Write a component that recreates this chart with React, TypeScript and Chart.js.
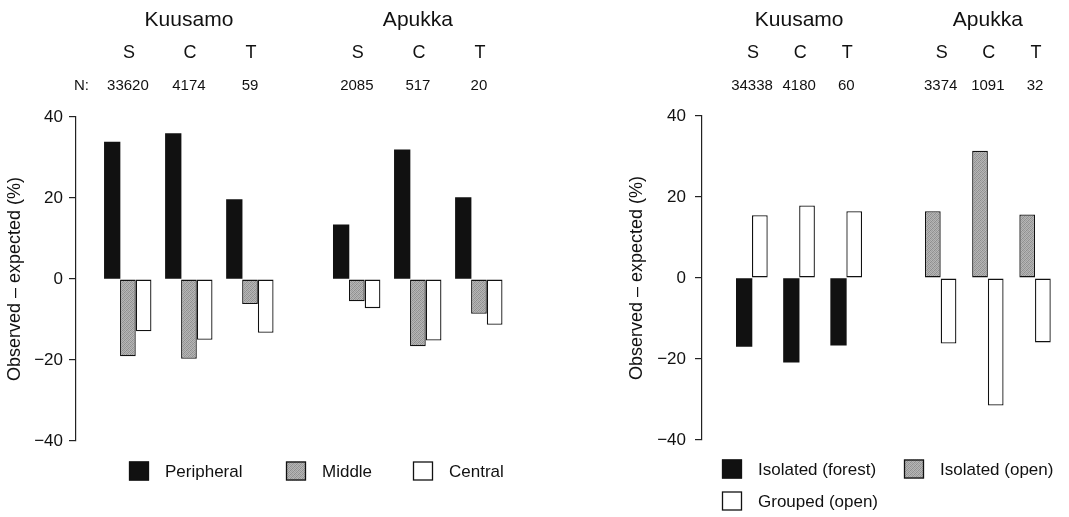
import React, { useEffect, useRef } from 'react';
import { Chart, registerables } from 'chart.js';

Chart.register(...registerables);

// ---------- data ----------
const SITES = ['Kuusamo', 'Apukka'];
const TYPES = ['S', 'C', 'T'];

const LEFT_N = ['33620', '4174', '59', '2085', '517', '20'];
const PERIPHERAL = [33.8, 35.9, 19.6, 13.4, 31.9, 20.1];
const MIDDLE = [-19.1, -19.7, -6.2, -5.5, -16.6, -8.6];
const CENTRAL = [-12.9, -15.0, -13.3, -7.2, -15.2, -11.3];

const RIGHT_N = ['34338', '4180', '60', '3374', '1091', '32'];
const ISOLATED_FOREST = [-16.9, -20.8, -16.6, null, null, null];
const ISOLATED_OPEN = [null, null, null, 16.5, 31.4, 15.7];
const GROUPED_OPEN = [15.5, 17.9, 16.5, -16.2, -31.5, -15.9];

const Y_MIN = -40;
const Y_MAX = 40;
const Y_STEP = 20;
const Y_TITLE = 'Observed \u2013 expected (%)';

const LEFT_LEGEND = ['Peripheral', 'Middle', 'Central'];
const RIGHT_LEGEND = ['Isolated (forest)', 'Isolated (open)', 'Grouped (open)'];

// ---------- styling ----------
const FONT = '"Liberation Sans", Arial, Helvetica, sans-serif';
const INK = '#111111';
const BLACK_FILL = '#111111';
const WHITE_FILL = '#ffffff';

function greyPattern(): CanvasPattern | string {
  const c = document.createElement('canvas');
  c.width = 4;
  c.height = 4;
  const g = c.getContext('2d');
  if (!g) return '#a0a0a0';
  const shades = [
    ['#8e8e8e', '#b2b2b2', '#9c9c9c', '#b8b8b8'],
    ['#b6b6b6', '#a0a0a0', '#b4b4b4', '#909090'],
    ['#9a9a9a', '#bababa', '#8c8c8c', '#b0b0b0'],
    ['#b3b3b3', '#929292', '#b7b7b7', '#9e9e9e'],
  ];
  shades.forEach((row, y) =>
    row.forEach((col, x) => {
      g.fillStyle = col;
      g.fillRect(x, y, 1, 1);
    })
  );
  const p = g.createPattern(c, 'repeat');
  return p || '#a0a0a0';
}

const posOf = (i: number, gap: number) => Math.floor(i / 3) * gap + (i % 3);

function headerPlugin(nLabels: string[], gap: number, showN: boolean) {
  return {
    id: 'headerText',
    afterDraw(chart: any) {
      const ctx = chart.ctx;
      const xs = chart.scales.x;
      ctx.save();
      ctx.fillStyle = INK;
      ctx.textAlign = 'center';
      ctx.textBaseline = 'middle';
      SITES.forEach((site, s) => {
        ctx.font = `21px ${FONT}`;
        ctx.fillText(site, xs.getPixelForValue(s * gap + 1), 20);
        TYPES.forEach((t, k) => {
          const x = xs.getPixelForValue(s * gap + k);
          ctx.font = `18px ${FONT}`;
          ctx.fillText(t, x + 1, 53);
          ctx.font = `15px ${FONT}`;
          ctx.fillText(nLabels[s * 3 + k], x, 86);
        });
      });
      if (showN) {
        ctx.font = `15px ${FONT}`;
        ctx.textAlign = 'left';
        ctx.fillText('N:', 74, 86);
      }
      ctx.restore();
    },
  };
}

function legendPlugin(items: { label: string; fill: any; x: number; y: number }[]) {
  return {
    id: 'customLegend',
    afterDraw(chart: any) {
      const ctx = chart.ctx;
      ctx.save();
      items.forEach((it) => {
        ctx.fillStyle = it.fill;
        ctx.fillRect(it.x, it.y - 9.5, 20, 19);
        ctx.strokeStyle = INK;
        ctx.lineWidth = 1.3;
        ctx.strokeRect(it.x + 0.5, it.y - 9, 19, 18);
        ctx.fillStyle = INK;
        ctx.font = `17px ${FONT}`;
        ctx.textAlign = 'left';
        ctx.textBaseline = 'middle';
        ctx.fillText(it.label, it.x + 36, it.y + 1);
      });
      ctx.restore();
    },
  };
}

function yAxis(width: number, labelPad: number, titlePad: number, stacked: boolean) {
  return {
    type: 'linear',
    position: 'left',
    min: Y_MIN,
    max: Y_MAX,
    stacked,
    afterFit: (scale: any) => {
      scale.width = width;
    },
    ticks: {
      stepSize: Y_STEP,
      color: INK,
      padding: labelPad,
      font: { family: FONT, size: 17 },
      callback: (v: any) => (Number(v) < 0 ? '\u2212' + Math.abs(Number(v)) : String(v)),
    },
    grid: {
      drawOnChartArea: false,
      drawTicks: true,
      tickLength: 7,
      color: '#222222',
      lineWidth: 1.2,
    },
    border: { display: true, color: '#222222', width: 1.2 },
    title: {
      display: true,
      text: Y_TITLE,
      color: INK,
      font: { family: FONT, size: 18 },
      padding: { top: titlePad, bottom: 0 },
    },
  };
}

function xAxis(min: number, max: number) {
  return {
    type: 'linear',
    display: false,
    min,
    max,
    offset: false,
    grid: { display: false },
  };
}

const barCommon = {
  barThickness: 15.7,
  borderColor: INK,
  borderWidth: 1.3,
  borderSkipped: false,
  inflateAmount: 0,
};
const solidBar = { ...barCommon, borderWidth: 0, inflateAmount: 0.3 };

export default function App() {
  const leftRef = useRef<HTMLCanvasElement | null>(null);
  const rightRef = useRef<HTMLCanvasElement | null>(null);

  useEffect(() => {
    const grey = greyPattern();
    const LGAP = 3.75;
    const RGAP = 4;
    const toPts = (vals: (number | null)[], gap: number) =>
      vals.map((v, i) => ({ x: posOf(i, gap), y: v }));

    const left = new Chart(leftRef.current as HTMLCanvasElement, {
      type: 'bar',
      data: {
        datasets: [
          { label: LEFT_LEGEND[0], data: toPts(PERIPHERAL, LGAP), backgroundColor: BLACK_FILL, ...solidBar },
          { label: LEFT_LEGEND[1], data: toPts(MIDDLE, LGAP), backgroundColor: grey, ...barCommon },
          { label: LEFT_LEGEND[2], data: toPts(CENTRAL, LGAP), backgroundColor: WHITE_FILL, ...barCommon },
        ] as any,
      },
      options: {
        responsive: false,
        animation: false,
        layout: { padding: { top: 117, bottom: 76, left: 0, right: 0 } },
        plugins: { legend: { display: false }, tooltip: { enabled: false } },
        scales: {
          x: xAxis(-0.85, 6.75),
          y: yAxis(76, 6, 4, false),
        } as any,
      },
      plugins: [
        headerPlugin(LEFT_N, LGAP, true),
        legendPlugin([
          { label: LEFT_LEGEND[0], fill: BLACK_FILL, x: 129, y: 471 },
          { label: LEFT_LEGEND[1], fill: grey, x: 286, y: 471 },
          { label: LEFT_LEGEND[2], fill: WHITE_FILL, x: 413, y: 471 },
        ]),
      ],
    } as any);

    const right = new Chart(rightRef.current as HTMLCanvasElement, {
      type: 'bar',
      data: {
        datasets: [
          { label: RIGHT_LEGEND[0], data: toPts(ISOLATED_FOREST, RGAP), backgroundColor: BLACK_FILL, stack: 'isolated', ...solidBar },
          { label: RIGHT_LEGEND[1], data: toPts(ISOLATED_OPEN, RGAP), backgroundColor: grey, stack: 'isolated', ...barCommon },
          { label: RIGHT_LEGEND[2], data: toPts(GROUPED_OPEN, RGAP), backgroundColor: WHITE_FILL, stack: 'grouped', ...barCommon },
        ] as any,
      },
      options: {
        responsive: false,
        animation: false,
        layout: { padding: { top: 116, bottom: 77, left: 0, right: 0 } },
        plugins: { legend: { display: false }, tooltip: { enabled: false } },
        scales: {
          x: xAxis(-1.06, 6.72),
          y: yAxis(162, 9, 86, true),
        } as any,
      },
      plugins: [
        headerPlugin(RIGHT_N, RGAP, false),
        legendPlugin([
          { label: RIGHT_LEGEND[0], fill: BLACK_FILL, x: 182, y: 469 },
          { label: RIGHT_LEGEND[1], fill: grey, x: 364, y: 469 },
          { label: RIGHT_LEGEND[2], fill: WHITE_FILL, x: 182, y: 501 },
        ]),
      ],
    } as any);

    return () => {
      left.destroy();
      right.destroy();
    };
  }, []);

  return (
    <div style={{ position: 'absolute', left: 0, top: 0, width: 1069, height: 517, background: '#fff' }}>
      <canvas ref={leftRef} width={540} height={517} style={{ position: 'absolute', left: 0, top: 0 }} />
      <canvas ref={rightRef} width={529} height={517} style={{ position: 'absolute', left: 540, top: 0 }} />
    </div>
  );
}
